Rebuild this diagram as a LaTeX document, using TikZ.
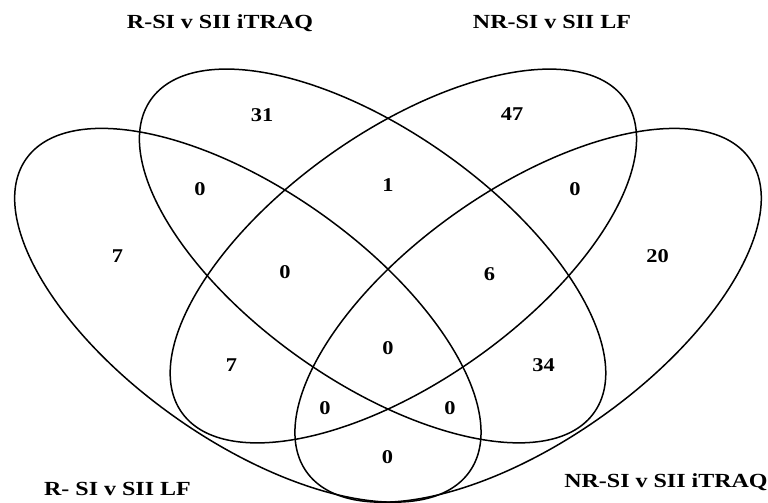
\documentclass[tikz,border=0pt]{standalone}
\usepackage{fontspec}
\setmainfont{Liberation Serif}
% wide bold serif faces for the set names and the counts
\newfontfamily\namefont{Liberation Serif}[FakeStretch=1.2]
\newfontfamily\countfont{Liberation Serif}[FakeStretch=1.15]
\begin{document}
\begin{tikzpicture}[x=1pt,y=-1pt,
  ring/.style={line width=1.5pt, black},
  count/.style={font=\countfont\bfseries\fontsize{19.5}{20}\selectfont, inner sep=0pt},
  setname/.style={font=\namefont\bfseries\fontsize{20}{22}\selectfont, inner sep=0pt, anchor=base}]

\useasboundingbox (0,0) rectangle (768,503);
\fill[white] (0,0) rectangle (768,503);

% ellipse centres
\coordinate (cA) at (247.85,315.3);
\coordinate (cB) at (372.6,256);
\coordinate (cC) at (403.4,256);
\coordinate (cD) at (528.15,315.3);

\begin{scope}
\clip (0,0) rectangle (768,503);
\draw[ring, rotate around={-35.2:(cA)}] (cA) ellipse [x radius=271.3pt, y radius=125.2pt];
\draw[ring, rotate around={-35.2:(cB)}] (cB) ellipse [x radius=271.3pt, y radius=125.2pt];
\draw[ring, rotate around={35.2:(cC)}]  (cC) ellipse [x radius=271.3pt, y radius=125.2pt];
\draw[ring, rotate around={35.2:(cD)}]  (cD) ellipse [x radius=271.3pt, y radius=125.2pt];
\end{scope}

% set names
\node[setname] (nB) at (220,28.5) {R-SI v SII iTRAQ};
\node[setname] (nC) at (552,29) {NR-SI v SII LF};
\node[setname] (nA) at (117.5,495) {R- SI v SII LF};
\node[setname] (nD) at (666,487) {NR-SI v SII iTRAQ};

% region counts
\node[count] (rB)    at (262,115)   {31};
\node[count] (rC)    at (512,114.5) {47};
\node[count] (rA)    at (117.5,256) {7};
\node[count] (rD)    at (657.5,256.5) {20};
\node[count] (rAB)   at (200,189)   {0};
\node[count] (rBC)   at (388,185)   {1};
\node[count] (rCD)   at (575,189)   {0};
\node[count] (rABC)  at (285,272.5) {0};
\node[count] (rBCD)  at (489.5,274) {6};
\node[count] (rABCD) at (388,348)   {0};
\node[count] (rAC)   at (231.5,365) {7};
\node[count] (rBD)   at (543.5,365) {34};
\node[count] (rACD)  at (325,408.3) {0};
\node[count] (rABD)  at (450,408.3) {0};
\node[count] (rAD)   at (387.5,457.5) {0};
\end{tikzpicture}
\end{document}
